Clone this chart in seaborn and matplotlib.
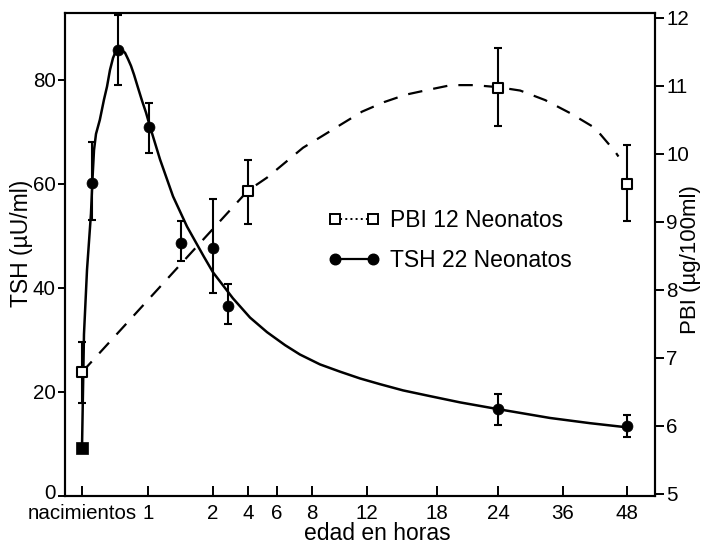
import numpy as np
import matplotlib
matplotlib.use("Agg")
import matplotlib.pyplot as plt
import matplotlib.transforms as mtransforms
import seaborn as sns
from matplotlib.lines import Line2D

# ---------------- data ----------------
x_tick_hours = [0, 1, 2, 4, 6, 8, 12, 18, 24, 36, 48]
x_tick_labels = ["nacimientos", "1", "2", "4", "6", "8", "12", "18", "24", "36", "48"]
# relative spacing of the printed (non-linear) hour axis
x_tick_spacing = [82, 148, 213, 248, 277, 312, 367, 437, 498, 563, 627]

tsh_hours = [0.147, 0.55, 1.02, 1.50, 2.0, 2.87, 24, 48]
tsh_mean = [60.2, 85.8, 70.9, 48.7, 47.7, 36.5, 16.8, 13.5]
tsh_low = [53.0, 79.0, 65.9, 45.1, 39.1, 33.0, 13.7, 11.3]
tsh_high = [68.0, 92.5, 75.6, 52.8, 57.1, 40.7, 19.7, 15.6]
tsh_birth_hour = [0]
tsh_birth_value = [9.2]

pbi_hours = [0, 4, 24, 48]
pbi_mean = [6.79, 9.46, 10.97, 9.56]
pbi_low = [6.34, 8.97, 10.41, 9.01]
pbi_high = [7.24, 9.91, 11.56, 10.13]

# fitted TSH curve
tsh_curve_hours = [0, 0.03, 0.076, 0.136, 0.159, 0.182, 0.212, 0.27, 0.333, 0.379,
                   0.424, 0.47, 0.515, 0.56, 0.606, 0.652, 0.697, 0.742, 0.788,
                   0.848, 0.909, 0.97, 1.031, 1.185, 1.385, 1.6, 1.86, 2.0, 3.14,
                   4.14, 5.31, 6.46, 7.31, 8.58, 10.04, 11.49, 13.11, 15.09, 17.4,
                   20.26, 24, 33.6, 41.06, 48]
tsh_curve_value = [9.2, 31.1, 43.5, 54.3, 61.0, 66.5, 69.6, 72.3, 76.2, 78.7,
                   81.9, 84.2, 85.6, 85.9, 85.7, 85.2, 84.0, 82.7, 81.0,
                   78.5, 76.0, 73.7, 71.0, 64.7, 57.6, 51.8, 46.0, 43.0, 38.0,
                   34.3, 31.5, 29.0, 27.2, 25.3, 23.9, 22.6, 21.5, 20.3, 19.2,
                   18.0, 16.7, 15.0, 14.0, 13.2]

# fitted PBI curve
pbi_curve_hours = [0, 4, 5.31, 6.46, 7.49, 8.73, 10.18, 11.64, 13.46, 15.34, 17.23,
                   19.38, 21.64, 24, 28.1, 32.7, 37.3, 42, 45.8, 46.4]
pbi_curve_value = [6.79, 9.46, 9.65, 9.87, 10.09, 10.26, 10.44, 10.62, 10.76, 10.87,
                   10.94, 11.01, 11.01, 10.98, 10.93, 10.79, 10.60, 10.38, 10.03, 9.96]

tsh_ticks = [0, 20, 40, 60, 80]
pbi_ticks = [5, 6, 7, 8, 9, 10, 11, 12]

# ---------------- style ----------------
sns.set_theme(style="ticks")
plt.rcParams["font.family"] = ["Liberation Sans", "DejaVu Sans"]
plt.rcParams["axes.linewidth"] = 1.5
FS_TICK = 14.8
FS_LAB = 16.5


def _interp_ext(v, xp, fp):
    v = np.asarray(v, dtype=float)
    xp = np.asarray(xp, dtype=float)
    fp = np.asarray(fp, dtype=float)
    out = np.interp(v, xp, fp)
    lo = v < xp[0]
    hi = v > xp[-1]
    out = np.where(lo, fp[0] + (v - xp[0]) * (fp[1] - fp[0]) / (xp[1] - xp[0]), out)
    out = np.where(hi, fp[-1] + (v - xp[-1]) * (fp[-1] - fp[-2]) / (xp[-1] - xp[-2]), out)
    return out


def fwd(v):
    return _interp_ext(v, x_tick_hours, x_tick_spacing)


def inv(v):
    return _interp_ext(v, x_tick_spacing, x_tick_hours)


fig = plt.figure(figsize=(7.06, 5.46), dpi=100)
ax = fig.add_axes([65 / 706, 1 - 496 / 546, 590 / 706, 483 / 546])
ax.set_xscale("function", functions=(fwd, inv))
ax2 = ax.twinx()

# ---------------- TSH (left axis) ----------------
sns.lineplot(x=tsh_curve_hours, y=tsh_curve_value, ax=ax, color="black",
             linewidth=1.8, estimator=None, sort=False, zorder=2)
t_mean = np.array(tsh_mean)
ax.errorbar(tsh_hours, tsh_mean,
            yerr=[t_mean - np.array(tsh_low), np.array(tsh_high) - t_mean],
            fmt="none", ecolor="black", elinewidth=1.5, capsize=2.6, capthick=1.5, zorder=3)
sns.scatterplot(x=tsh_hours, y=tsh_mean, ax=ax, marker="o", s=62, color="black",
                edgecolor="black", linewidth=0.5, zorder=4)
sns.scatterplot(x=tsh_birth_hour, y=tsh_birth_value, ax=ax, marker="s", s=78,
                color="black", edgecolor="black", linewidth=0.5, zorder=4)

# ---------------- PBI (right axis) ----------------
sns.lineplot(x=pbi_curve_hours, y=pbi_curve_value, ax=ax2, color="black",
             linewidth=1.6, linestyle=(0, (6.5, 5)), estimator=None, sort=False, zorder=2)
p_mean = np.array(pbi_mean)
ax2.errorbar(pbi_hours, pbi_mean,
             yerr=[p_mean - np.array(pbi_low), np.array(pbi_high) - p_mean],
             fmt="none", ecolor="black", elinewidth=1.5, capsize=2.6, capthick=1.5, zorder=3)
sns.scatterplot(x=pbi_hours, y=pbi_mean, ax=ax2, marker="s", s=58, color="white",
                edgecolor="black", linewidth=1.5, zorder=4)

# ---------------- axes ----------------
ax.set_xlim(inv(65), inv(655))
ax.set_ylim(0, 92.85)
ax2.set_ylim(4.97, 12.07)

ax.set_xticks(x_tick_hours)
ax.set_xticklabels(x_tick_labels)
ax.set_yticks(tsh_ticks)
ax2.set_yticks(pbi_ticks)

ax.tick_params(axis="x", direction="in", length=7.5, width=1.4, pad=6, labelsize=FS_TICK,
               colors="black")
ax.tick_params(axis="y", direction="out", length=5, width=1.4, pad=1.5, labelsize=FS_TICK,
               colors="black")
ax2.tick_params(axis="y", direction="out", length=6.5, width=1.4, pad=1.5, labelsize=FS_TICK,
                colors="black")

# lift the "0" label a touch so it sits clear of "nacimientos", as in the print
zero_lbl = ax.get_yticklabels()[0]
zero_lbl.set_transform(zero_lbl.get_transform() +
                       mtransforms.ScaledTranslation(0, 3.5 / 72, fig.dpi_scale_trans))

for a in (ax, ax2):
    for s in a.spines.values():
        s.set_color("black")
        s.set_linewidth(1.5)
    a.grid(False)

ax.set_xlabel("edad en horas", fontsize=FS_LAB, color="black")
ax.xaxis.set_label_coords(0.53, -0.054)
ax.set_ylabel("TSH (µU/ml)", fontsize=FS_LAB, color="black")
ax.yaxis.set_label_coords(-0.055, 0.522)
ax2.set_ylabel("PBI (µg/100ml)", fontsize=16, color="black")
ax2.yaxis.set_label_coords(1.042, 0.49)

# ---------------- legend ----------------
handles = [
    Line2D([], [], color="black", linestyle=":", linewidth=1.4, marker="s",
           markerfacecolor="white", markeredgecolor="black", markersize=7.2,
           markeredgewidth=1.4),
    Line2D([], [], color="black", linestyle="-", linewidth=1.6, marker="o",
           markerfacecolor="black", markeredgecolor="black", markersize=7.6),
]
leg = ax2.legend(handles, ["PBI 12 Neonatos", "TSH 22 Neonatos"], numpoints=2,
                 frameon=False, loc="upper left", bbox_to_anchor=(0.446, 0.594),
                 handlelength=2.26, handletextpad=0.44, labelspacing=0.72,
                 borderpad=0, borderaxespad=0, fontsize=FS_LAB)
for t in leg.get_texts():
    t.set_color("black")

fig.savefig("out.png", dpi=100, facecolor="white")
